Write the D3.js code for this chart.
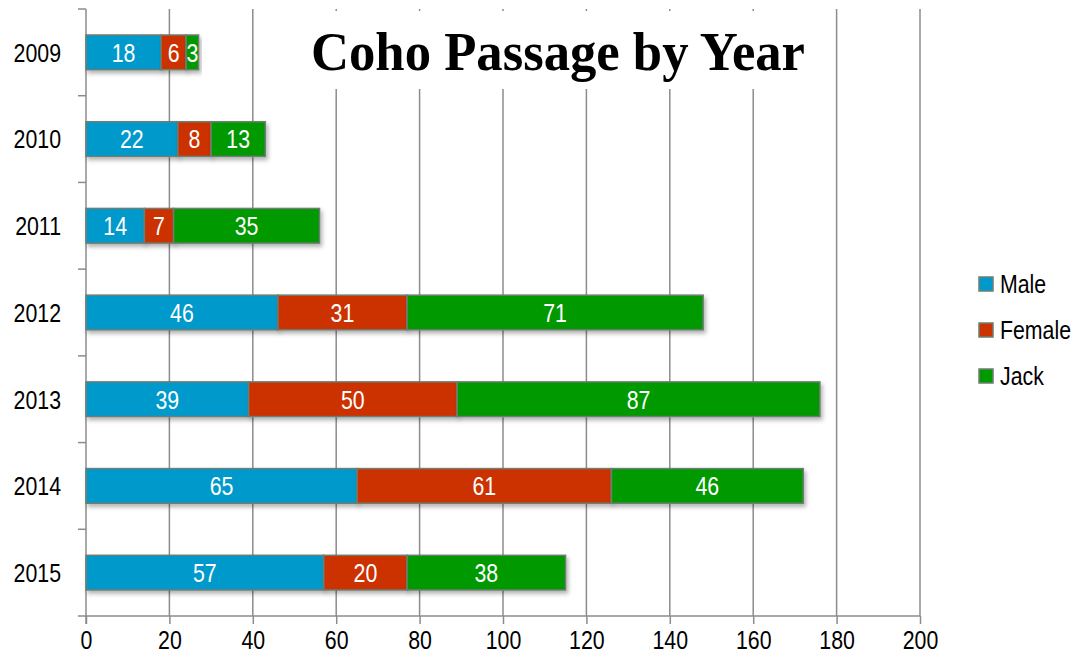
<!DOCTYPE html>
<html>
<head>
<meta charset="utf-8">
<script src="https://cdn.jsdelivr.net/npm/d3@7"></script>
<style>
  body { margin: 0; background: #fff; }
  text { font-family: "Liberation Sans Narrow", "Liberation Sans", Arial, sans-serif; }
</style>
</head>
<body>
<div class="chart"></div>
<script>
// data
var years = ["2009", "2010", "2011", "2012", "2013", "2014", "2015"];
var male = [18, 22, 14, 46, 39, 65, 57];
var female = [6, 8, 7, 31, 50, 61, 20];
var jack = [3, 13, 35, 71, 87, 46, 38];
var seriesNames = ["Male", "Female", "Jack"];
var seriesColors = ["#0099cc", "#cc3300", "#009900"];
var xTicks = [0, 20, 40, 60, 80, 100, 120, 140, 160, 180, 200];

var svgWidth = 1076;
var svgHeight = 660;

var svg = d3.select(".chart")
    .append("svg")
    .attr("width", svgWidth)
    .attr("height", svgHeight);

// drop shadow for bars
var defs = svg.append("defs");
var shadow = defs.append("filter")
    .attr("id", "shadow")
    .attr("x", "-10%").attr("y", "-30%")
    .attr("width", "130%").attr("height", "180%");
shadow.append("feDropShadow")
    .attr("dx", 2).attr("dy", 3)
    .attr("stdDeviation", 2)
    .attr("flood-color", "#000")
    .attr("flood-opacity", 0.3);

// squeeze sans text to look like the narrow font in the original
function narrow(sel) {
    sel.each(function() {
        var len = this.getComputedTextLength();
        d3.select(this)
            .attr("textLength", len * 0.82)
            .attr("lengthAdjust", "spacingAndGlyphs");
    });
}

// scales
var x = d3.scaleLinear()
    .domain([0, 200])
    .range([86, 920]);

var y = d3.scaleBand()
    .domain(years)
    .range([9, 616])
    .paddingInner(0.6)
    .paddingOuter(0.3);

// build stacked table
var table = years.map(function(yr, i) {
    return { year: yr, Male: male[i], Female: female[i], Jack: jack[i] };
});
var stacked = d3.stack().keys(seriesNames)(table);

// vertical gridlines
svg.append("g")
    .selectAll("line")
    .data(xTicks.slice(1))
    .enter()
    .append("line")
    .attr("x1", d => x(d))
    .attr("x2", d => x(d))
    .attr("y1", 9)
    .attr("y2", 616)
    .attr("stroke", "#8c8c8c")
    .attr("stroke-width", 1.5);

// white box behind the title covers the gridlines
svg.append("rect")
    .attr("x", 300)
    .attr("y", 11)
    .attr("width", 516)
    .attr("height", 78)
    .attr("fill", "#fff");

svg.append("text")
    .attr("x", 558)
    .attr("y", 70)
    .attr("text-anchor", "middle")
    .attr("textLength", 494)
    .attr("lengthAdjust", "spacingAndGlyphs")
    .style("font-family", "'Liberation Serif', 'DejaVu Serif', serif")
    .style("font-weight", "bold")
    .style("font-size", "54px")
    .attr("fill", "#000")
    .text("Coho Passage by Year");

// x axis
var xAxis = d3.axisBottom(x)
    .tickValues(xTicks)
    .tickSize(8)
    .tickSizeOuter(0)
    .tickPadding(7);

var xg = svg.append("g")
    .attr("transform", "translate(0,616)")
    .call(xAxis);
xg.select(".domain").attr("stroke", "#8c8c8c").attr("stroke-width", 1.5)
    .attr("d", "M78,0H920");
xg.selectAll(".tick line").attr("stroke", "#8c8c8c").attr("stroke-width", 1.5);
xg.selectAll(".tick text")
    .style("font-size", "26px")
    .attr("fill", "#000")
    .call(narrow);

// y axis with ticks at band edges
var yg = svg.append("g");
yg.append("line")
    .attr("x1", 86).attr("x2", 86)
    .attr("y1", 9).attr("y2", 624)
    .attr("stroke", "#8c8c8c")
    .attr("stroke-width", 1.5);
var step = y.step();
yg.selectAll(".ytick")
    .data(d3.range(years.length))
    .enter()
    .append("line")
    .attr("x1", 78).attr("x2", 86)
    .attr("y1", d => y(years[d]) - step * 0.3)
    .attr("y2", d => y(years[d]) - step * 0.3)
    .attr("stroke", "#8c8c8c")
    .attr("stroke-width", 1.5);
yg.selectAll(".ylabel")
    .data(years)
    .enter()
    .append("text")
    .attr("x", 61)
    .attr("y", d => y(d) + y.bandwidth() / 2)
    .attr("dy", "0.36em")
    .attr("text-anchor", "end")
    .style("font-size", "26px")
    .attr("fill", "#000")
    .text(d => d)
    .call(narrow);

// bars
var layers = svg.append("g")
    .selectAll("g")
    .data(stacked)
    .enter()
    .append("g")
    .attr("fill", (d, i) => seriesColors[i]);

layers.selectAll("rect")
    .data(d => d)
    .enter()
    .append("rect")
    .attr("x", d => x(d[0]))
    .attr("y", d => y(d.data.year))
    .attr("width", d => x(d[1]) - x(d[0]))
    .attr("height", y.bandwidth())
    .attr("stroke", "#6e7e72")
    .attr("stroke-width", 1.5)
    .attr("filter", "url(#shadow)");

// value labels
layers.selectAll("text")
    .data(d => d)
    .enter()
    .append("text")
    .attr("x", d => (x(d[0]) + x(d[1])) / 2)
    .attr("y", d => y(d.data.year) + y.bandwidth() / 2)
    .attr("dy", "0.36em")
    .attr("text-anchor", "middle")
    .style("font-size", "26px")
    .attr("fill", "#fff")
    .text(d => d[1] - d[0])
    .call(narrow);

// legend
var legend = svg.append("g")
    .selectAll("g")
    .data(seriesNames)
    .enter()
    .append("g")
    .attr("transform", (d, i) => "translate(979," + (284 + i * 46) + ")");
legend.append("rect")
    .attr("x", 0).attr("y", -7)
    .attr("width", 14).attr("height", 14)
    .attr("fill", (d, i) => seriesColors[i])
    .attr("stroke", "#6e7e72")
    .attr("stroke-width", 1.5);
// scaled horizontally so the long label stays inside the page
legend.append("text")
    .attr("transform", "translate(21,0) scale(0.82,1)")
    .attr("dy", "0.36em")
    .style("font-size", "26px")
    .attr("fill", "#000")
    .text(d => d);
</script>
</body>
</html>
